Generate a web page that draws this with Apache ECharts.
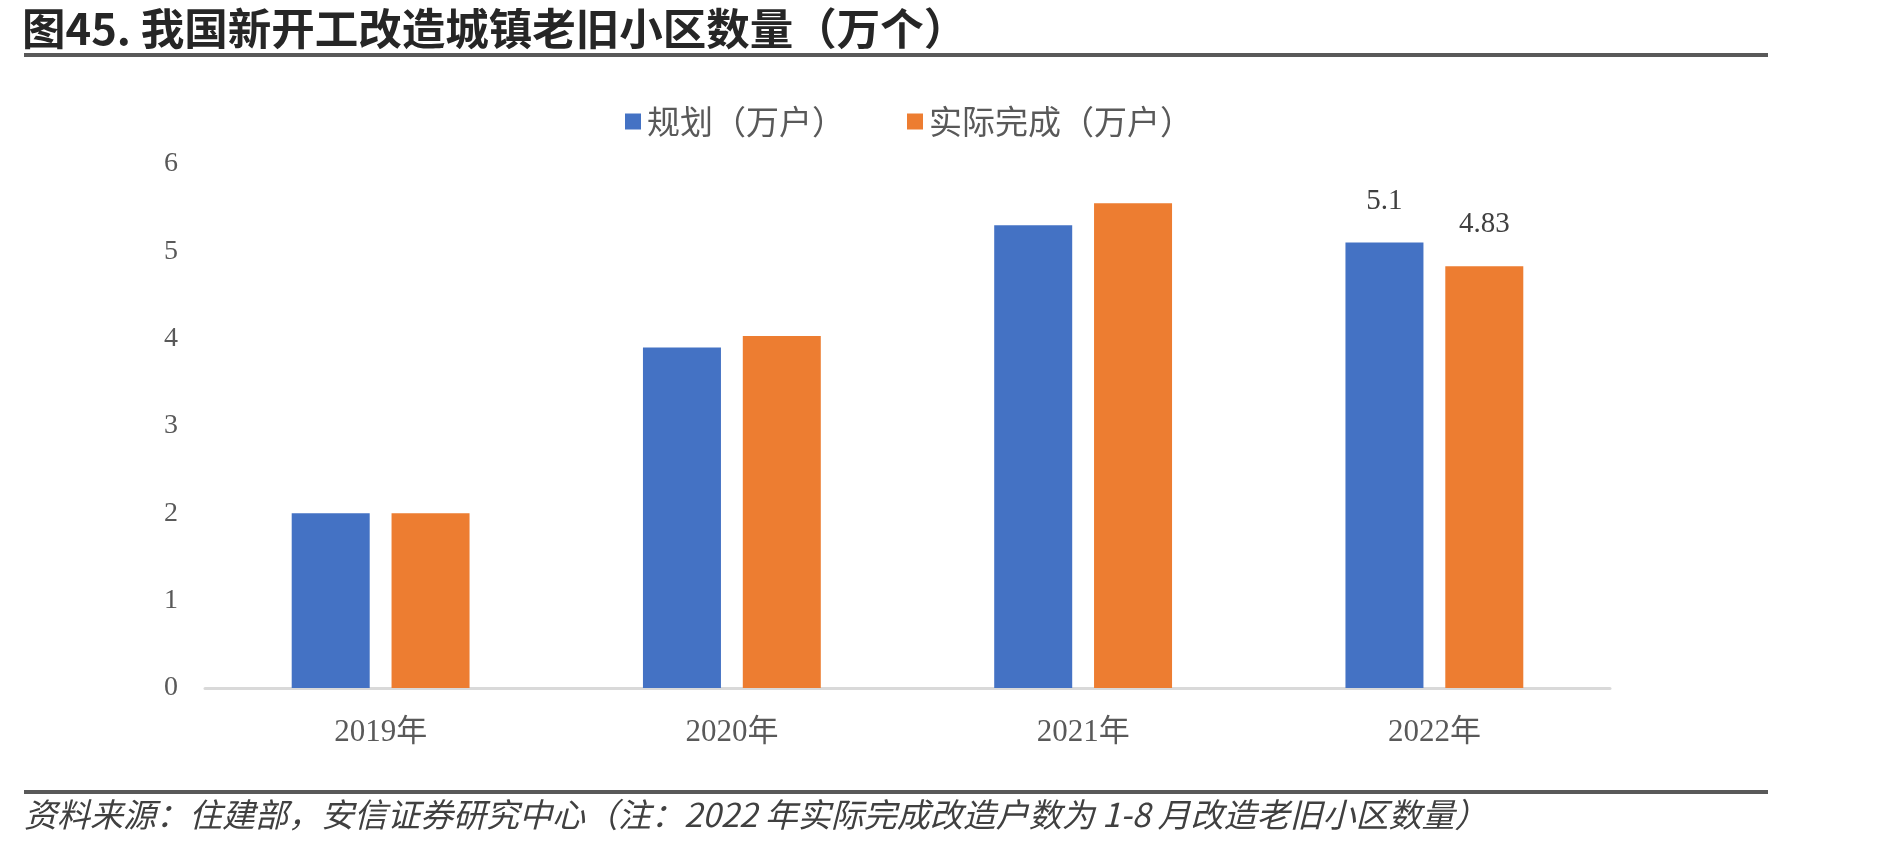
<!DOCTYPE html>
<html>
<head>
<meta charset="utf-8">
<script src="https://cdn.jsdelivr.net/npm/echarts@6/dist/echarts.min.js"></script>
<style>
html, body { margin: 0; padding: 0; background: #fff; }
#container { width: 1888px; height: 848px; }
</style>
</head>
<body>
<div id="container"></div>
<script>
var years = ['2019年', '2020年', '2021年', '2022年'];
var planData = [2.0, 3.9, 5.3, 5.1];
var doneData = [2.0, 4.03, 5.55, 4.83];
var yTicks = [0, 1, 2, 3, 4, 5, 6];
var seriesNames = ['规划（万户）', '实际完成（万户）'];

var titleText = '图45. 我国新开工改造城镇老旧小区数量（万个）';
var footText = '资料来源：住建部，安信证券研究中心（注：2022 年实际完成改造户数为 1-8 月改造老旧小区数量）';

var serif = '"Liberation Serif", "Noto Sans CJK SC", serif';

// only the last year carries a value label
function withLabels(arr){
    return arr.map(function(v, i){
        if (i === arr.length - 1) {
            return { value: v, label: { show: true } };
        }
        return v;
    });
}

var barLabel = {
    show: false,
    position: 'top',
    distance: 27,
    fontFamily: serif,
    fontSize: 29,
    color: '#404040'
};

var option = {
    animation: false,
    backgroundColor: '#fff',
    color: ['#4472C4', '#ED7D31'],
    legend: {
        data: seriesNames,
        left: 620,
        top: 100,
        itemWidth: 16,
        itemHeight: 16,
        itemGap: 62,
        icon: 'rect',
        textStyle: {
            fontFamily: '"Noto Sans CJK SC", sans-serif',
            fontSize: 33,
            color: '#595959',
            padding: [0, 0, 0, 1]
        }
    },
    grid: {
        left: 205,
        right: 278,
        top: 164,
        bottom: 160,
        containLabel: false
    },
    xAxis: {
        type: 'category',
        data: years,
        axisTick: { show: false },
        axisLine: { lineStyle: { color: '#d9d9d9', width: 3 } },
        axisLabel: {
            margin: 29,
            fontFamily: serif,
            fontSize: 31,
            color: '#595959'
        }
    },
    yAxis: {
        type: 'value',
        min: yTicks[0],
        max: yTicks[yTicks.length - 1],
        interval: 1,
        splitLine: { show: false },
        axisLine: { show: false },
        axisTick: { show: false },
        axisLabel: {
            margin: 27,
            fontFamily: serif,
            fontSize: 28,
            color: '#595959'
        }
    },
    series: [
        {
            name: seriesNames[0],
            type: 'bar',
            barWidth: 78,
            barGap: '28%',
            label: barLabel,
            data: withLabels(planData)
        },
        {
            name: seriesNames[1],
            type: 'bar',
            barWidth: 78,
            barGap: '28%',
            label: barLabel,
            data: withLabels(doneData)
        }
    ],
    graphic: [
        {
            type: 'text',
            left: 22,
            top: 7,
            style: {
                text: titleText,
                fontFamily: '"Noto Sans CJK SC", sans-serif',
                fontWeight: 'bold',
                fontSize: 43.5,
                fill: '#262626'
            }
        },
        {
            type: 'rect',
            shape: { x: 24, y: 53, width: 1744, height: 4 },
            style: { fill: '#595959' }
        },
        {
            type: 'rect',
            shape: { x: 24, y: 790, width: 1744, height: 4 },
            style: { fill: '#595959' }
        },
        {
            type: 'text',
            left: 24,
            top: 798,
            style: {
                text: footText,
                fontFamily: '"Noto Sans CJK SC", sans-serif',
                fontStyle: 'italic',
                fontSize: 33,
                fill: '#404040'
            }
        }
    ]
};

var myChart = echarts.init(document.getElementById('container'));
myChart.setOption(option);
</script>
</body>
</html>
